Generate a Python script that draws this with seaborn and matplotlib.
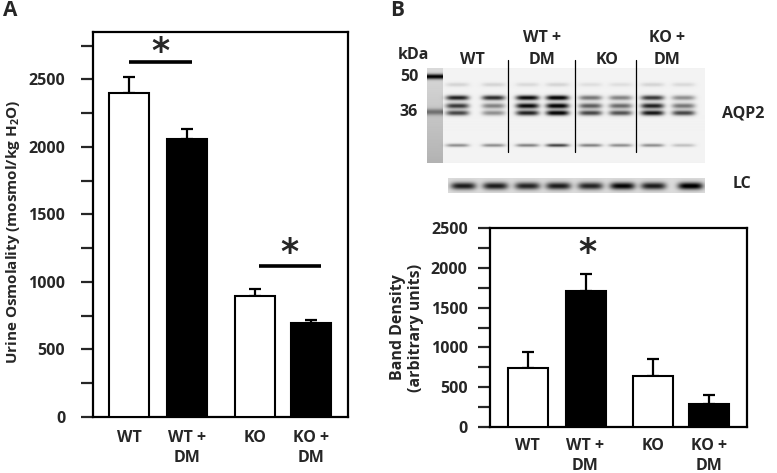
import numpy as np
import pandas as pd
import matplotlib
matplotlib.use("Agg")
import matplotlib.pyplot as plt
from matplotlib.ticker import MultipleLocator
import seaborn as sns

# ---------------- data ----------------
groups = ["WT", "WT +\nDM", "KO", "KO +\nDM"]
treatment = ["ctrl", "DM", "ctrl", "DM"]
xpos = [0.0, 1.0, 2.17, 3.13]

osm_mean = [2400, 2060, 895, 695]
osm_err = [115, 70, 50, 22]

band_mean = [740, 1710, 640, 285]
band_err = [200, 215, 218, 113]

# western blot band darkness per lane (8 lanes, 2 per group)
aqp2_top = [0.85, 0.80, 0.95, 1.00, 0.50, 0.45, 0.75, 0.40]
aqp2_mid = [0.75, 0.45, 0.95, 1.00, 0.60, 0.55, 0.85, 0.50]
aqp2_low = [0.70, 0.40, 0.85, 1.00, 0.70, 0.65, 0.90, 0.70]
aqp2_small = [0.40, 0.40, 0.45, 0.70, 0.45, 0.40, 0.40, 0.20]
aqp2_faint = [0.12, 0.12, 0.10, 0.12, 0.08, 0.08, 0.12, 0.10]
lc_band = [0.75, 0.75, 0.72, 0.75, 0.72, 0.85, 0.75, 0.90]

# ---------------- style ----------------
sns.set_style("white")
FONT = ["Open Sans", "DejaVu Sans"]
plt.rcParams["font.family"] = FONT
plt.rcParams["font.weight"] = "bold"
plt.rcParams["axes.labelweight"] = "bold"
plt.rcParams["mathtext.fontset"] = "custom"
plt.rcParams["mathtext.rm"] = "Open Sans:bold"
plt.rcParams["mathtext.bf"] = "Open Sans:bold"

W, H = 777, 473
fig = plt.figure(figsize=(W / 100, H / 100), dpi=100)


def px_axes(x0, y0, x1, y1):
    return fig.add_axes([x0 / W, 1 - y1 / H, (x1 - x0) / W, (y1 - y0) / H])


pal = {"ctrl": "white", "DM": "black"}
FS = 11.5


def bar_panel(ax, means, errs, ymax, pad, xpad):
    df = pd.DataFrame({"pos": xpos, "val": means, "treat": treatment})
    sns.barplot(data=df, x="pos", y="val", hue="treat", palette=pal,
                native_scale=True, dodge=False, width=(40 / 58) / 0.96,
                edgecolor="black", linewidth=1.5, errorbar=None,
                legend=False, ax=ax, zorder=3)
    ax.errorbar(xpos, means, yerr=[np.zeros(len(errs)), errs], fmt="none",
                ecolor="black", elinewidth=1.6, capsize=4.5, capthick=1.6,
                zorder=2)
    ax.set_ylim(0, ymax)
    ax.yaxis.set_major_locator(MultipleLocator(500))
    ax.yaxis.set_minor_locator(MultipleLocator(250))
    ax.set_xticks(xpos)
    ax.set_xticklabels(groups, fontsize=FS, fontweight="bold",
                       multialignment="center", linespacing=1.35)
    ax.tick_params(axis="x", length=0, pad=xpad)
    ax.tick_params(axis="y", which="both", direction="out", length=9,
                   width=1.6, left=True, labelsize=FS, pad=pad)
    for lab in ax.get_yticklabels():
        lab.set_fontweight("bold")
    for s in ax.spines.values():
        s.set_linewidth(1.6)
        s.set_color("black")
    ax.set_xlabel("")


# ---------- Panel A ----------
axA = px_axes(93, 32, 348, 417)
bar_panel(axA, osm_mean, osm_err, 2850, 11, 9)
axA.set_xlim(-0.629, 3.767)
axA.set_ylabel("Urine Osmolality (mosmol/kg H$_\\mathbf{2}$O)", fontsize=11,
               fontweight="bold", labelpad=4)
axA.yaxis.set_label_coords(-0.278, 0.48)
axA.plot([0.0, 1.08], [2625, 2625], color="black", lw=2.6, solid_capstyle="butt")
axA.plot([2.23, 3.30], [1117, 1117], color="black", lw=2.6, solid_capstyle="butt")
axA.text(0.54, 2700, "*", ha="center", va="center", fontsize=25,
         fontweight="bold", family="DejaVu Sans")
axA.text(2.75, 1212, "*", ha="center", va="center", fontsize=25,
         fontweight="bold", family="DejaVu Sans")

# ---------- Panel B bar chart ----------
axB = px_axes(490, 228, 747, 427)
bar_panel(axB, band_mean, band_err, 2500, 7, 8)
axB.set_xlim(-0.647, 3.784)
axB.set_ylabel("Band Density\n(arbitrary units)", fontsize=FS,
               fontweight="bold", labelpad=5, linespacing=1.15)
axB.text(1.04, 2180, "*", ha="center", va="center", fontsize=25,
         fontweight="bold", family="DejaVu Sans")

# ---------- overlay for blot and labels ----------
ov = fig.add_axes([0, 0, 1, 1], facecolor="none")
ov.set_xlim(0, W)
ov.set_ylim(H, 0)
ov.axis("off")

# AQP2 blot image
bw, bh = 278, 94
yy, xx = np.mgrid[0:bh, 0:bw]
img = np.full((bh, bw), 0.05)
lane_x = [30, 66, 100, 130, 163, 193, 225, 256]
img[:, 0:16] = 0.15 + 0.15 * (yy[:, 0:16] / bh)
img += 0.85 * np.exp(-((yy - 8) / 2.5) ** 2) * (xx < 16)
img += 0.35 * np.exp(-((yy - 43) / 3.0) ** 2) * (xx < 16)
for i, cx in enumerate(lane_x):
    lane = np.exp(-((xx - cx) / 11.5) ** 4)
    for row, vals, sw in [(16, aqp2_faint, 2.0), (29, aqp2_top, 2.4),
                          (37, aqp2_mid, 2.6), (44, aqp2_low, 2.5),
                          (76, aqp2_small, 1.6)]:
        img += vals[i] * lane * np.exp(-((yy - row) / sw) ** 2)
img = np.clip(img, 0, 1)
ov.imshow(img, cmap="gray_r", vmin=0, vmax=1, extent=(427, 705, 163, 69),
          aspect="auto", interpolation="bilinear", zorder=1)

# LC strip
lw_, lh_ = 257, 15
yy2, xx2 = np.mgrid[0:lh_, 0:lw_]
lc = np.full((lh_, lw_), 0.14)
lc_x = [15, 47, 79, 110, 142, 174, 205, 242]
for i, cx in enumerate(lc_x):
    lane = np.exp(-((xx2 - cx) / 12.5) ** 4)
    lc += lc_band[i] * lane * np.exp(-((yy2 - 7.5) / 3.6) ** 2)
lc = np.clip(lc, 0, 1)
ov.imshow(lc, cmap="gray_r", vmin=0, vmax=1, extent=(448, 705, 193, 178),
          aspect="auto", interpolation="bilinear", zorder=1)

for x in [508, 575, 636]:
    ov.plot([x, x], [60, 152], color="black", lw=0.9, zorder=2)

tk = dict(fontsize=FS, fontweight="bold", ha="center", va="center")
ov.text(10, 10, "A", fontsize=15, fontweight="bold", ha="center", va="center")
ov.text(397, 10, "B", fontsize=15, fontweight="bold", ha="center", va="center")
ov.text(413, 55, "kDa", **tk)
ov.text(409, 77, "50", **tk)
ov.text(409, 112, "36", **tk)
ov.text(472, 60, "WT", **tk)
ov.text(542, 38, "WT +", **tk)
ov.text(542, 60, "DM", **tk)
ov.text(607, 60, "KO", **tk)
ov.text(667, 38, "KO +", **tk)
ov.text(667, 60, "DM", **tk)
ov.text(722, 113, "AQP2", fontsize=FS, fontweight="bold", ha="left", va="center")
ov.text(733, 184, "LC", fontsize=FS, fontweight="bold", ha="left", va="center")

fig.savefig("out.png", dpi=100)
